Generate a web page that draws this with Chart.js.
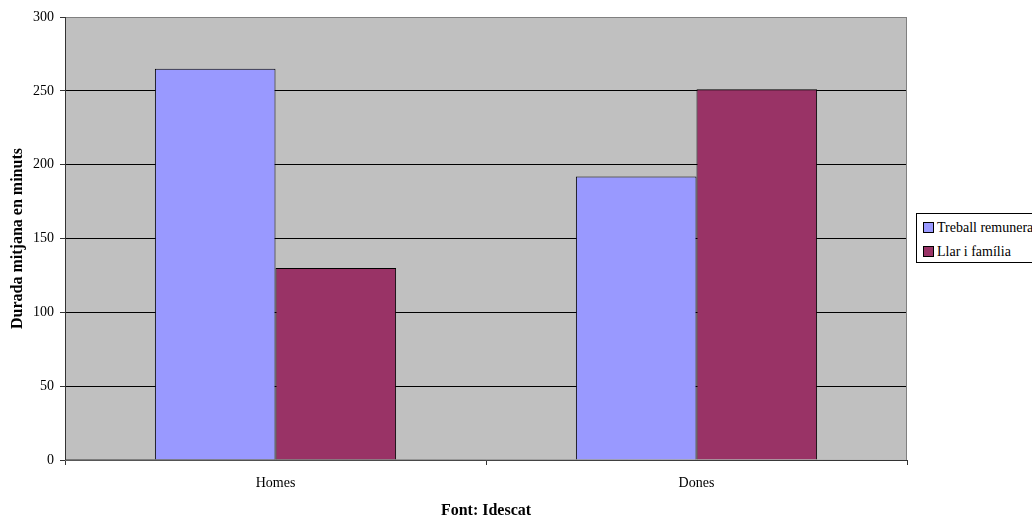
<!DOCTYPE html>
<html>
<head>
<meta charset="utf-8">
<script src="https://cdn.jsdelivr.net/npm/chart.js@4.4.0/dist/chart.umd.min.js"></script>
<style>
  html, body { margin: 0; padding: 0; background: #fff; overflow: hidden; }
  #wrap { position: relative; width: 1032px; height: 515px; }
  #legend {
    position: absolute; left: 916px; top: 213px; width: 140px; height: 50px;
    border: 1px solid #000; background: #fff; box-sizing: border-box;
    font-family: "Liberation Serif", "Times New Roman", serif; font-size: 14px; color: #000;
  }
  #legend .item { position: absolute; left: 6px; white-space: nowrap; line-height: 16px; }
  #legend .sw { display: inline-block; width: 9px; height: 9px; border: 1px solid #000; margin-right: 3px; vertical-align: -1px; }
</style>
</head>
<body>
<div id="wrap">
  <canvas id="chart" width="1032" height="515"></canvas>
  <div id="legend"></div>
</div>
<script>
const categories = ["Homes", "Dones"];
const seriesNames = ["Treball remunerat", "Llar i família"];
const treballValues = [265, 192];
const llarValues = [130, 251];
const yTicks = [0, 50, 100, 150, 200, 250, 300];
const colors = ["#9999FF", "#993366"];

// legend (cut at the right edge like the original)
const legendDiv = document.getElementById("legend");
seriesNames.forEach((name, i) => {
  const item = document.createElement("div");
  item.className = "item";
  item.style.top = (6 + i * 24) + "px";
  item.innerHTML = `<span class="sw" style="background:${colors[i]}"></span>${name}`;
  legendDiv.appendChild(item);
});

const plotBg = {
  id: "plotBg",
  beforeDraw(chart) {
    const { ctx, chartArea: a } = chart;
    ctx.save();
    ctx.fillStyle = "#C0C0C0";
    ctx.fillRect(a.left, a.top, a.right - a.left, a.bottom - a.top);
    ctx.restore();
  },
  afterDraw(chart) {
    const { ctx, chartArea: a } = chart;
    ctx.save();
    ctx.strokeStyle = "#808080";
    ctx.lineWidth = 1;
    ctx.strokeRect(a.left + 0.5, a.top + 0.5, a.right - a.left - 1, a.bottom - a.top);
    ctx.strokeStyle = "#333";
    ctx.beginPath();
    ctx.moveTo(a.left + 0.5, a.top);
    ctx.lineTo(a.left + 0.5, a.bottom);
    ctx.lineTo(a.right, a.bottom + 0.5);
    ctx.stroke();
    ctx.restore();
  }
};

const serif = "'Liberation Serif', 'Times New Roman', serif";

new Chart(document.getElementById("chart").getContext("2d"), {
  type: "bar",
  data: {
    labels: categories,
    datasets: [
      { label: seriesNames[0], data: treballValues, backgroundColor: colors[0], borderColor: "#000", borderWidth: 1 },
      { label: seriesNames[1], data: llarValues, backgroundColor: colors[1], borderColor: "#000", borderWidth: 1 }
    ]
  },
  options: {
    responsive: false,
    animation: false,
    devicePixelRatio: 1,
    layout: { padding: { left: 0, right: 125, top: 17, bottom: -5 } },
    plugins: { legend: { display: false }, tooltip: { enabled: false } },
    datasets: { bar: { categoryPercentage: 0.573, barPercentage: 1 } },
    scales: {
      x: {
        grid: { offset: true, drawOnChartArea: false, color: "#333", tickLength: 5 },
        border: { display: false },
        ticks: { color: "#000", font: { family: serif, size: 14 }, padding: 10 },
        title: { display: true, text: "Font: Idescat", color: "#000", font: { family: serif, size: 16, weight: "bold" }, padding: { top: 0, bottom: 0 } },
        afterFit(scale) { scale.height = 60; }
      },
      y: {
        min: 0, max: 300,
        afterBuildTicks(scale) { scale.ticks = yTicks.map(v => ({ value: v })); },
        grid: { color: "#000", tickLength: 5, drawTicks: true, tickColor: "#333" },
        border: { display: false },
        ticks: { color: "#000", font: { family: serif, size: 14 }, padding: 6 },
        title: { display: true, text: "Durada mitjana en minuts", color: "#000", font: { family: serif, size: 16, weight: "bold" }, padding: { top: 8, bottom: 0 } },
        afterFit(scale) { scale.width = 65; }
      }
    }
  },
  plugins: [plotBg]
});
</script>
</body>
</html>
